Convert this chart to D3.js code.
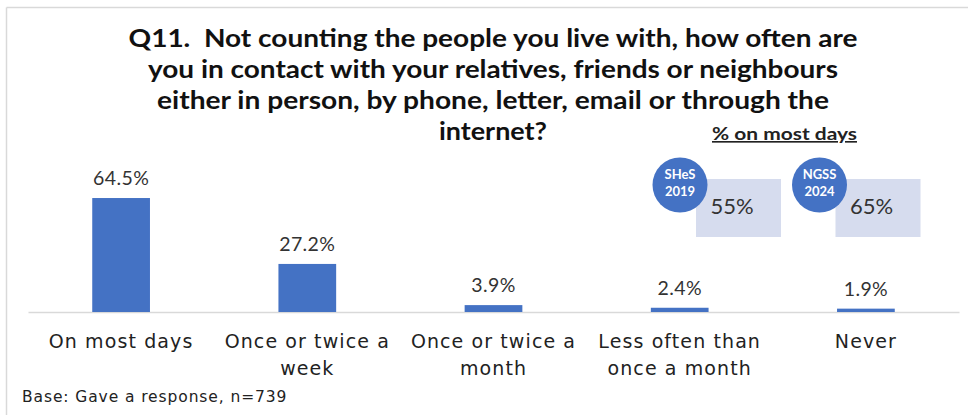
<!DOCTYPE html>
<html>
<head>
<meta charset="utf-8">
<script src="https://cdn.jsdelivr.net/npm/d3@7"></script>
<style>
  html, body { margin: 0; padding: 0; background: #fff; }
  svg { display: block; }
  text { font-family: Lato, "Open Sans", "DejaVu Sans", sans-serif; }
  .wide { font-family: "DejaVu Sans", Lato, sans-serif; }
</style>
</head>
<body>
<svg id="chart" width="968" height="415"></svg>
<script>
// Question wording, one entry per title line
const titleLines = [
  "Q11.  Not counting the people you live with, how often are",
  "you in contact with your relatives, friends or neighbours",
  "either in person, by phone, letter, email or through the",
  "internet?"
];
const titleWidths = [729, 690, 672, 108];

// Response categories (wrapped over two lines where needed)
const categories = ["On most days", "Once or twice a week", "Once or twice a month", "Less often than once a month", "Never"];
const categoryLines = [
  ["On most days"],
  ["Once or twice a", "week"],
  ["Once or twice a", "month"],
  ["Less often than", "once a month"],
  ["Never"]
];
// Percentage giving each response
const values = [64.5, 27.2, 3.9, 2.4, 1.9];

// Earlier survey comparisons: % on most days
const compareHeading = "% on most days";
const surveys = [["SHeS", "2019"], ["NGSS", "2024"]];
const surveyValues = [55, 65];

const baseNote = "Base: Gave a response, n=739";

const svg = d3.select("#chart");
const barColor = "#4472C4";

// frame lines
svg.append("line").attr("x1", 6.5).attr("x2", 968).attr("y1", 7.5).attr("y2", 7.5)
  .attr("stroke", "#d9d9d9").attr("stroke-width", 1.5);
svg.append("line").attr("x1", 6.5).attr("x2", 6.5).attr("y1", 7.5).attr("y2", 415)
  .attr("stroke", "#d9d9d9").attr("stroke-width", 1.5);

// title
const title = svg.append("g");
titleLines.forEach((t, i) => {
  title.append("text")
    .attr("x", 493).attr("y", 47 + i * 31)
    .attr("text-anchor", "middle")
    .attr("font-size", 24).attr("font-weight", 700)
    .attr("fill", "#111")
    .style("white-space", "pre")
    .attr("textLength", titleWidths[i]).attr("lengthAdjust", "spacingAndGlyphs")
    .text(t);
});

// scales
const x = d3.scaleBand().domain(categories).range([28, 959])
  .paddingInner(0.69).paddingOuter(0.345);
const y = d3.scaleLinear().domain([0, 100]).range([312, 312 - 176.7]);

// baseline axis
const axis = svg.append("g").attr("transform", `translate(0,${y(0)})`)
  .call(d3.axisBottom(x).tickSize(0).tickFormat(""));
axis.select(".domain").attr("stroke", "#d9d9d9").attr("stroke-width", 1.5);

// bars
svg.append("g").selectAll("rect").data(values).join("rect")
  .attr("x", (d, i) => x(categories[i]))
  .attr("width", x.bandwidth())
  .attr("y", d => y(d))
  .attr("height", d => y(0) - y(d))
  .attr("fill", barColor);

// value labels
svg.append("g").selectAll("text").data(values).join("text")
  .attr("x", (d, i) => x(categories[i]) + x.bandwidth() / 2)
  .attr("y", d => y(d) - 13)
  .attr("text-anchor", "middle")
  .attr("font-size", 19.5)
  .attr("letter-spacing", 0.4)
  .attr("fill", "#333")
  .text(d => d.toFixed(1) + "%");

// category labels
const catG = svg.append("g");
categoryLines.forEach((lines, i) => {
  const t = catG.append("text")
    .attr("class", "wide")
    .attr("text-anchor", "middle")
    .attr("font-size", 19)
    .attr("letter-spacing", 1.1)
    .attr("fill", "#222");
  lines.forEach((ln, j) => {
    t.append("tspan")
      .attr("x", x(categories[i]) + x.bandwidth() / 2)
      .attr("y", 348 + j * 27)
      .text(ln);
  });
});

// base note
svg.append("text")
  .attr("class", "wide")
  .attr("x", 22).attr("y", 402)
  .attr("font-size", 15.5).attr("letter-spacing", 0.9).attr("fill", "#222")
  .text(baseNote);

// comparison heading
svg.append("text")
  .attr("x", 784.5).attr("y", 140)
  .attr("text-anchor", "middle")
  .attr("font-size", 16.5).attr("font-weight", 700)
  .attr("fill", "#222")
  .attr("text-decoration", "underline")
  .attr("textLength", 145).attr("lengthAdjust", "spacingAndGlyphs")
  .text(compareHeading);

// comparison badges
const badgeX = [680, 819.5];
surveys.forEach((s, i) => {
  const g = svg.append("g").attr("transform", `translate(${badgeX[i]},185)`);
  g.append("rect")
    .attr("x", 16).attr("y", -6).attr("width", 85).attr("height", 58)
    .attr("fill", "#d6dcee");
  g.append("text")
    .attr("x", 52).attr("y", 29)
    .attr("text-anchor", "middle")
    .attr("font-size", 22).attr("fill", "#333")
    .text(surveyValues[i] + "%");
  g.append("circle").attr("r", 27.5).attr("fill", barColor);
  g.append("text")
    .attr("text-anchor", "middle")
    .attr("font-size", 13).attr("font-weight", 700).attr("fill", "#fff")
    .selectAll("tspan").data(s).join("tspan")
    .attr("x", 0).attr("y", (d, j) => -6 + j * 17)
    .text(d => d);
});
</script>
</body>
</html>
